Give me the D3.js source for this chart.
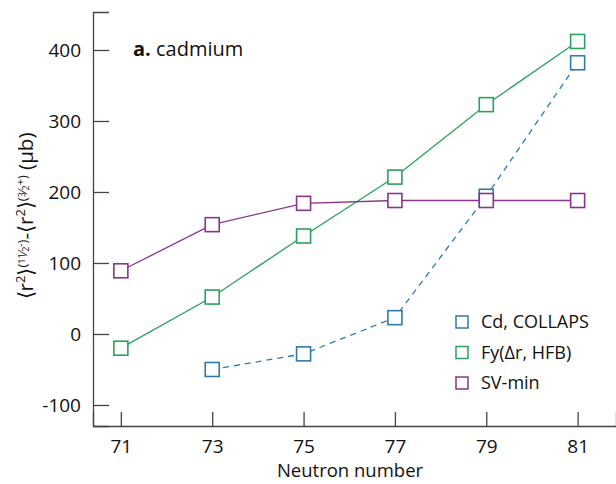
<!DOCTYPE html>
<html>
<head>
<meta charset="utf-8">
<script src="https://cdn.jsdelivr.net/npm/d3@7"></script>
<style>
  html, body { margin: 0; padding: 0; background: #fff; }
  svg { display: block; font-family: "Open Sans", "Noto Sans", sans-serif; }
</style>
</head>
<body>
<svg id="chart" width="616" height="484"></svg>
<script>
// Neutron numbers and charge-radius differences (μb)
const neutrons = [71, 73, 75, 77, 79, 81];
const xTicks = [71, 73, 75, 77, 79, 81];
const yTicks = [-100, 0, 100, 200, 300, 400];

const collapsN = [73, 75, 77, 79, 81];
const collapsVals = [-50, -28, 23, 194, 382];
const fyVals = [-20, 52, 138, 221, 323, 412];
const svminVals = [89, 154, 184, 188, 188, 188];

const seriesNames = ["Cd, COLLAPS", "Fy(\u0394r, HFB)", "SV-min"];
const seriesColors = ["#2b7bab", "#2ca05a", "#8a348a"];

const svg = d3.select("#chart");
const plotLeft = 93, plotRight = 616, plotTop = 12, plotBottom = 426;

const x = d3.scaleLinear().domain([70.39, 81.84]).range([plotLeft, plotRight]);
const y = d3.scaleLinear().domain([-129.6, 453.5]).range([plotBottom, plotTop]);

const axisColor = "#444";
const fmt = d => String(d);

// Axes: ticks point inward
const xAxis = svg.append("g").attr("transform", `translate(0,${plotBottom})`)
  .call(d3.axisBottom(x).tickValues(xTicks).tickSize(-14).tickPadding(27).tickFormat(fmt));
const yAxis = svg.append("g").attr("transform", `translate(${plotLeft},0)`)
  .call(d3.axisLeft(y).tickValues(yTicks).tickSize(-16).tickPadding(12).tickFormat(fmt));

[xAxis, yAxis].forEach(g => {
  g.select(".domain").attr("stroke", axisColor).attr("stroke-width", 1.3);
  g.selectAll(".tick line").attr("stroke", axisColor).attr("stroke-width", 1.3);
  g.selectAll(".tick text").attr("fill", "#111").attr("font-size", 19)
    .attr("font-family", "'Open Sans', 'Noto Sans', sans-serif");
});
yAxis.selectAll(".tick text").attr("dy", "0.35em");
xAxis.selectAll(".tick text").attr("dy", "0");

// Axis titles
svg.append("text").attr("x", 350).attr("y", 477).attr("text-anchor", "middle")
  .attr("font-size", 18.5).attr("fill", "#111").text("Neutron number");

const yt = svg.append("text")
  .attr("transform", "translate(33,216) rotate(-90)")
  .attr("text-anchor", "middle").attr("font-size", 20.5).attr("fill", "#111");
const sup = 13;
yt.append("tspan").text("\u27E8r");
yt.append("tspan").attr("font-size", sup).attr("dy", -8).text("2");
yt.append("tspan").attr("dy", 8).text("\u27E9");
yt.append("tspan").attr("font-size", sup).attr("dy", -6).text("(");
yt.append("tspan").attr("font-size", 9).attr("dy", -2).text("11");
yt.append("tspan").attr("font-size", sup).attr("dy", 2).text("\u2044");
yt.append("tspan").attr("font-size", 9).attr("dy", 2).text("2");
yt.append("tspan").attr("font-size", 10).attr("dy", -5).text("-");
yt.append("tspan").attr("font-size", sup).attr("dy", 3).text(")");
yt.append("tspan").attr("dy", 6).text("-\u27E8r");
yt.append("tspan").attr("font-size", sup).attr("dy", -8).text("2");
yt.append("tspan").attr("dy", 8).text("\u27E9");
yt.append("tspan").attr("font-size", sup).attr("dy", -6).text("(");
yt.append("tspan").attr("font-size", 9).attr("dy", -2).text("3");
yt.append("tspan").attr("font-size", sup).attr("dy", 2).text("\u2044");
yt.append("tspan").attr("font-size", 9).attr("dy", 2).text("2");
yt.append("tspan").attr("font-size", 11).attr("dy", -5).text("+");
yt.append("tspan").attr("font-size", sup).attr("dy", 3).text(")");
yt.append("tspan").attr("dy", 6).text(" (\u03BCb)");

// Panel label
const pl = svg.append("text").attr("x", 133).attr("y", 56).attr("font-size", 20).attr("fill", "#111");
pl.append("tspan").attr("font-weight", "bold").text("a.");
pl.append("tspan").text(" cadmium");

// Series lines and square markers
const series = [
  { xs: collapsN, ys: collapsVals, color: seriesColors[0], dash: "6,5" },
  { xs: neutrons, ys: fyVals, color: seriesColors[1], dash: null },
  { xs: neutrons, ys: svminVals, color: seriesColors[2], dash: null }
];
const line = d3.line().x(d => x(d[0])).y(d => y(d[1]));
const sq = 14;

series.forEach(s => {
  const pts = s.xs.map((n, i) => [n, s.ys[i]]);
  svg.append("path").datum(pts).attr("d", line).attr("fill", "none")
    .attr("stroke", s.color).attr("stroke-width", 1.3)
    .attr("stroke-dasharray", s.dash);
});
series.forEach(s => {
  const pts = s.xs.map((n, i) => [n, s.ys[i]]);
  svg.append("g").selectAll("rect").data(pts).join("rect")
    .attr("x", d => x(d[0]) - sq / 2).attr("y", d => y(d[1]) - sq / 2)
    .attr("width", sq).attr("height", sq)
    .attr("fill", "#fff").attr("stroke", s.color).attr("stroke-width", 1.6);
});

// Legend
const legend = svg.append("g");
seriesNames.forEach((name, i) => {
  const ly = 322 + i * 30.5;
  legend.append("rect").attr("x", 456).attr("y", ly - 6).attr("width", 12).attr("height", 12)
    .attr("fill", "#fff").attr("stroke", seriesColors[i]).attr("stroke-width", 1.5);
  legend.append("text").attr("x", 481).attr("y", ly).attr("dy", "0.35em")
    .attr("font-size", 18).attr("fill", "#111").text(name);
});
</script>
</body>
</html>
